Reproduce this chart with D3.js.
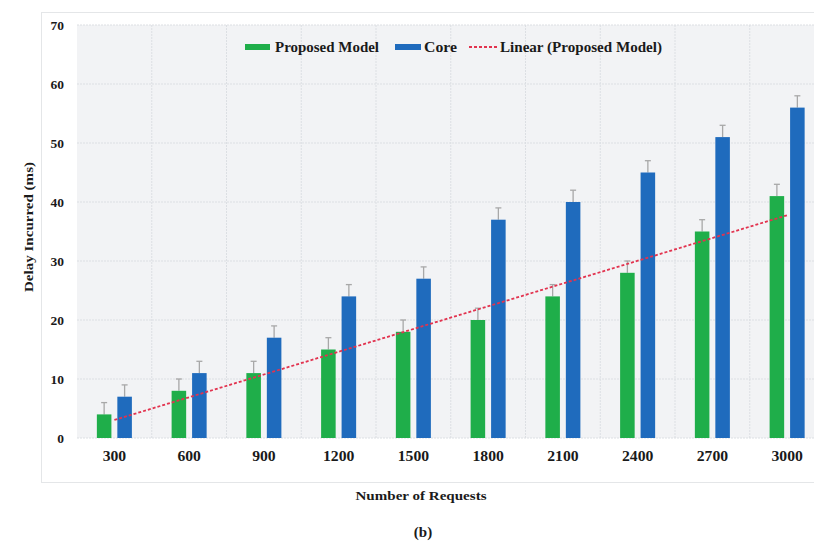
<!DOCTYPE html>
<html>
<head>
<meta charset="utf-8">
<script src="https://cdn.jsdelivr.net/npm/d3@7/dist/d3.min.js"></script>
<style>
  html, body { margin: 0; padding: 0; background: #ffffff; }
  svg { display: block; }
  text { font-family: "Liberation Serif", "Times New Roman", serif; font-weight: bold; fill: #1a1a1a; }
</style>
</head>
<body>
<svg id="chart" width="814" height="544"></svg>
<script>
// Number of requests on the x axis
const categories = ["300", "600", "900", "1200", "1500", "1800", "2100", "2400", "2700", "3000"];
// Delay incurred (ms) for each approach
const proposedValues = [4, 8, 11, 15, 18, 20, 24, 28, 35, 41];
const coreValues = [7, 11, 17, 24, 27, 37, 40, 45, 51, 56];
// Upper error bar extent (ms)
const proposedError = [2, 2, 2, 2, 2, 2, 2, 2, 2, 2];
const coreError = [2, 2, 2, 2, 2, 2, 2, 2, 2, 2];
const yTicks = [0, 10, 20, 30, 40, 50, 60, 70];

const seriesNames = ["Proposed Model", "Core"];
const colors = { "Proposed Model": "#1fae4a", "Core": "#1f6bbd" };
const trendColor = "#e2334f";

const svg = d3.select("#chart");
const plot = { left: 77, right: 824.5, top: 25, bottom: 438 };

// widen text horizontally by a factor, keeping its anchor
function stretch(sel, factor) {
  sel.each(function() {
    const w = this.getComputedTextLength();
    d3.select(this).attr("textLength", w * factor).attr("lengthAdjust", "spacingAndGlyphs");
  });
}

// outer chart frame
svg.append("rect")
  .attr("x", 41.5).attr("y", 12.5)
  .attr("width", 800).attr("height", 470)
  .attr("fill", "#ffffff")
  .attr("stroke", "#e4e6e8").attr("stroke-width", 1);

// plot background
svg.append("rect")
  .attr("x", plot.left).attr("y", plot.top)
  .attr("width", plot.right - plot.left).attr("height", plot.bottom - plot.top)
  .attr("fill", "#f2f3f5");

const x0 = d3.scaleBand().domain(categories).range([plot.left, plot.right]).paddingInner(0).paddingOuter(0);
const x1 = d3.scaleBand().domain(seriesNames).range([0, x0.bandwidth()]).paddingInner(0.29).paddingOuter(0.97);
const y = d3.scaleLinear().domain([0, 70]).range([plot.bottom, plot.top]);

// gridlines
const grid = svg.append("g");
grid.selectAll("line.h").data(yTicks).join("line")
  .attr("class", "h")
  .attr("x1", plot.left).attr("x2", plot.right)
  .attr("y1", d => y(d)).attr("y2", d => y(d))
  .attr("stroke", "#dcdfe3").attr("stroke-width", 1).attr("stroke-dasharray", "2,1");
grid.selectAll("line.v").data(categories.slice(1)).join("line")
  .attr("class", "v")
  .attr("x1", d => x0(d)).attr("x2", d => x0(d))
  .attr("y1", plot.top).attr("y2", plot.bottom)
  .attr("stroke", "#dcdfe3").attr("stroke-width", 1).attr("stroke-dasharray", "2,1");

// y axis labels
const yAxis = d3.axisLeft(y).tickValues(yTicks).tickSize(0).tickPadding(0).tickFormat(d3.format("d"));
const yg = svg.append("g").attr("transform", `translate(${plot.left - 13},0)`).call(yAxis);
yg.select(".domain").remove();
yg.selectAll("text").attr("font-size", 13.5).attr("fill", "#1a1a1a")
  .style("font-family", "'Liberation Serif', serif").style("font-weight", "bold");

// x axis labels
const xAxis = d3.axisBottom(x0).tickSize(0).tickPadding(0);
const xg = svg.append("g").attr("transform", `translate(0,${plot.bottom + 13})`).call(xAxis);
xg.select(".domain").remove();
xg.selectAll("text").attr("font-size", 14).attr("fill", "#1a1a1a")
  .style("font-family", "'Liberation Serif', serif").style("font-weight", "bold");
stretch(xg.selectAll("text"), 1.12);

// bars
const rows = categories.map((c, i) => ({
  cat: c,
  bars: [
    { name: "Proposed Model", value: proposedValues[i], err: proposedError[i] },
    { name: "Core", value: coreValues[i], err: coreError[i] }
  ]
}));

const groups = svg.append("g").selectAll("g").data(rows).join("g")
  .attr("transform", d => `translate(${x0(d.cat)},0)`);

// error bars (upper only)
groups.selectAll("g.err").data(d => d.bars).join("g").attr("class", "err")
  .each(function(b) {
    const g = d3.select(this);
    const cx = x1(b.name) + x1.bandwidth() / 2;
    g.append("line")
      .attr("x1", cx).attr("x2", cx)
      .attr("y1", y(b.value)).attr("y2", y(b.value + b.err))
      .attr("stroke", "#a8a8a8").attr("stroke-width", 1.3);
    g.append("line")
      .attr("x1", cx - 3).attr("x2", cx + 3)
      .attr("y1", y(b.value + b.err)).attr("y2", y(b.value + b.err))
      .attr("stroke", "#a8a8a8").attr("stroke-width", 1.3);
  });

groups.selectAll("rect").data(d => d.bars).join("rect")
  .attr("x", b => x1(b.name))
  .attr("width", x1.bandwidth())
  .attr("y", b => y(b.value))
  .attr("height", b => y(0) - y(b.value))
  .attr("fill", b => colors[b.name]);

// linear trendline of the proposed model (least squares over category index)
const n = proposedValues.length;
const xs = d3.range(1, n + 1);
const mx = d3.mean(xs), my = d3.mean(proposedValues);
const slope = d3.sum(xs, (xv, i) => (xv - mx) * (proposedValues[i] - my)) / d3.sum(xs, xv => (xv - mx) ** 2);
const intercept = my - slope * mx;
const trendPts = [0, n - 1].map(i => ({ cat: categories[i], v: intercept + slope * xs[i] }));
svg.append("path")
  .datum(trendPts)
  .attr("d", d3.line().x(d => x0(d.cat) + x0.bandwidth() / 2).y(d => y(d.v)))
  .attr("fill", "none")
  .attr("stroke", trendColor).attr("stroke-width", 1.8).attr("stroke-dasharray", "3,2");

// legend
const legend = svg.append("g").attr("transform", "translate(0,47)");
legend.append("rect").attr("x", 245).attr("y", -3).attr("width", 25).attr("height", 6).attr("fill", colors["Proposed Model"]);
legend.append("text").attr("x", 275).attr("y", 0).attr("dy", "0.35em").attr("font-size", 14)
  .attr("textLength", 104).attr("lengthAdjust", "spacingAndGlyphs").text("Proposed Model");
legend.append("rect").attr("x", 395).attr("y", -3).attr("width", 26).attr("height", 6).attr("fill", colors["Core"]);
legend.append("text").attr("x", 424).attr("y", 0).attr("dy", "0.35em").attr("font-size", 14)
  .attr("textLength", 33).attr("lengthAdjust", "spacingAndGlyphs").text("Core");
legend.append("line").attr("x1", 469).attr("x2", 498).attr("y1", 0).attr("y2", 0)
  .attr("stroke", trendColor).attr("stroke-width", 1.8).attr("stroke-dasharray", "3,2");
legend.append("text").attr("x", 500).attr("y", 0).attr("dy", "0.35em").attr("font-size", 14)
  .attr("textLength", 162).attr("lengthAdjust", "spacingAndGlyphs").text("Linear (Proposed Model)");

// axis titles
svg.append("text")
  .attr("transform", "translate(33,227) rotate(-90)")
  .attr("text-anchor", "middle").attr("font-size", 13.5)
  .attr("textLength", 130).attr("lengthAdjust", "spacingAndGlyphs")
  .text("Delay Incurred (ms)");
svg.append("text")
  .attr("x", 421).attr("y", 500)
  .attr("text-anchor", "middle").attr("font-size", 13.5)
  .attr("textLength", 131).attr("lengthAdjust", "spacingAndGlyphs")
  .text("Number of Requests");
svg.append("text")
  .attr("x", 423).attr("y", 537)
  .attr("text-anchor", "middle").attr("font-size", 15)
  .text("(b)");
</script>
</body>
</html>
